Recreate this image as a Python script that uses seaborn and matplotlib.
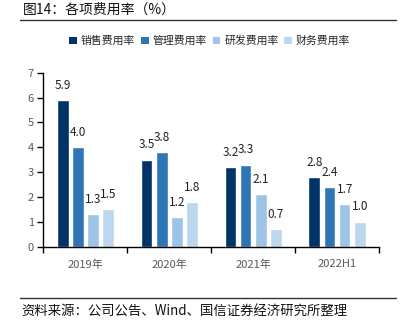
import matplotlib
matplotlib.use("Agg")
import matplotlib.pyplot as plt
import seaborn as sns
import pandas as pd
from matplotlib.ticker import FixedLocator, NullFormatter
from matplotlib.patches import Patch

# Data
periods = ["2019年", "2020年", "2021年", "2022H1"]
series_names = ["销售费用率", "管理费用率", "研发费用率", "财务费用率"]
selling = [5.9, 3.5, 3.2, 2.8]
admin = [4.0, 3.8, 3.3, 2.4]
rnd = [1.3, 1.2, 2.1, 1.7]
finance = [1.5, 1.8, 0.7, 1.0]
y_ticks = [0, 1, 2, 3, 4, 5, 6, 7]

colors = ["#003366", "#2E75B6", "#9DC3E6", "#BDD7EE"]

rows = []
for name, vals in zip(series_names, [selling, admin, rnd, finance]):
    for p, v in zip(periods, vals):
        rows.append({"period": p, "series": name, "value": v})
df = pd.DataFrame(rows)

sns.set_theme(style="white")
plt.rcParams["font.family"] = ["Noto Sans CJK SC", "DejaVu Sans"]

fig = plt.figure(figsize=(4.05, 3.25), dpi=100)
ax = fig.add_axes([0.1074, 0.241, 0.8284, 0.5353])

sns.barplot(data=df, x="period", y="value", hue="series", order=periods,
            hue_order=series_names, palette=colors, width=0.724, gap=0.23,
            saturation=1, ax=ax, legend=False)

for cont in ax.containers:
    ax.bar_label(cont, fmt="%.1f", padding=6, fontsize=8.5, color="#222222")

ax.set_ylim(0, 7)
ax.set_xlim(-0.5, 3.5)
ax.set_yticks(y_ticks)
ax.set_ylabel("")
ax.set_xlabel("")

# category boundaries carry the tick marks, centres carry the labels
ax.xaxis.set_major_locator(FixedLocator([-0.5, 0.5, 1.5, 2.5, 3.5]))
ax.xaxis.set_major_formatter(NullFormatter())
ax.set_xticks([0, 1, 2, 3], minor=True)
ax.set_xticklabels(periods, minor=True)
ax.tick_params(axis="x", which="major", length=4, width=1, color="black", direction="out")
ax.tick_params(axis="x", which="minor", length=0, pad=9, labelsize=8, labelcolor="#595959")
ax.tick_params(axis="y", length=4, width=1, color="black", direction="out",
               pad=3, labelsize=8, labelcolor="#595959")
ax.xaxis.set_ticks_position("bottom")
ax.yaxis.set_ticks_position("left")

sns.despine(ax=ax)
for s in ["left", "bottom"]:
    ax.spines[s].set_color("black")
    ax.spines[s].set_linewidth(1)

# Legend
handles = [Patch(facecolor=c, edgecolor="none") for c in colors]
fig.legend(handles, series_names, loc="center", bbox_to_anchor=(0.518, 0.874),
           ncol=4, frameon=False, fontsize=7.8, handlelength=0.7, handleheight=0.7,
           handletextpad=0.35, columnspacing=0.55, borderaxespad=0)

# Header and footer
fig.text(0.056, 0.969, "图14：各项费用率（%）", fontsize=10, ha="left", va="center",
         color="#111111")
fig.add_artist(plt.Line2D([0.049, 0.978], [0.938, 0.938], color="#333333", lw=1))
fig.add_artist(plt.Line2D([0.049, 0.978], [0.083, 0.083], color="#333333", lw=1))
fig.text(0.053, 0.043, "资料来源：公司公告、Wind、国信证券经济研究所整理", fontsize=9.6,
         ha="left", va="center", color="#111111")

fig.savefig("out.png", dpi=100)
